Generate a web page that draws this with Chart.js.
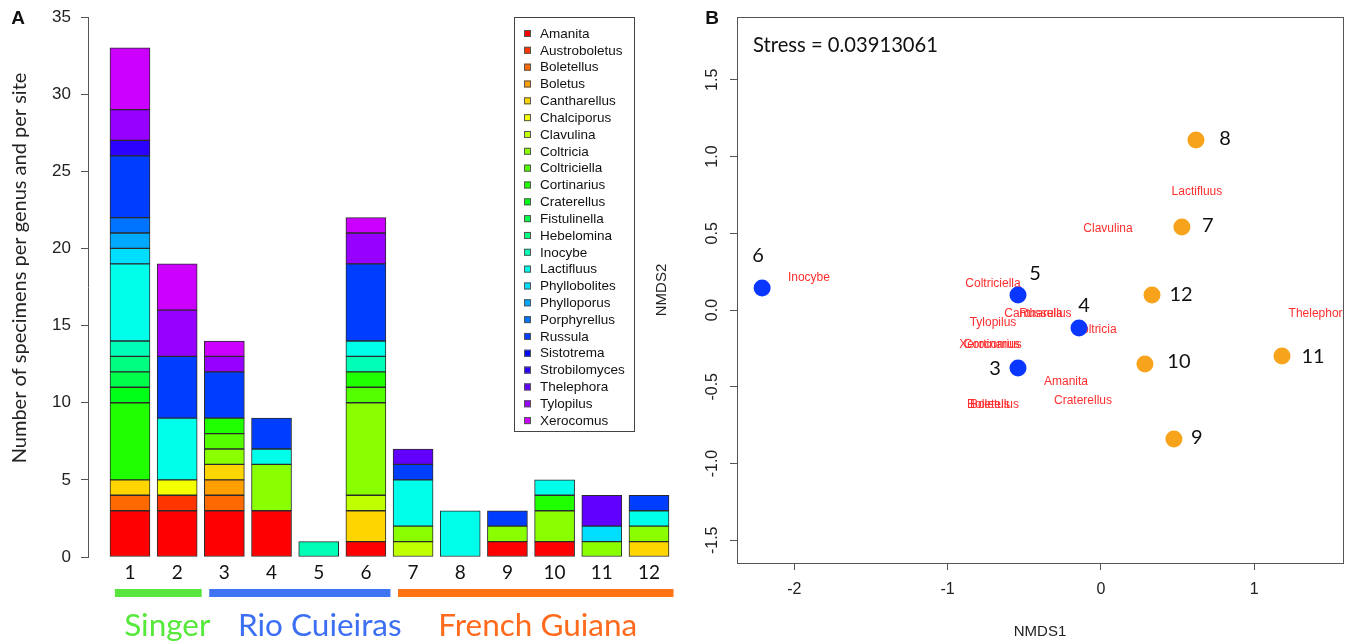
<!DOCTYPE html>
<html>
<head>
<meta charset="utf-8">
<script src="https://cdn.jsdelivr.net/npm/chart.js@4.4.0/dist/chart.umd.min.js"></script>
<style>
  body { margin: 0; background: #fff; }
  #wrap { position: relative; width: 1354px; height: 644px; overflow: hidden; }
  #barCanvas { position: absolute; left: 0; top: 0; }
  #nmdsCanvas { position: absolute; left: 640px; top: 0; }
</style>
</head>
<body>
<div id="wrap">
  <canvas id="barCanvas" width="680" height="644"></canvas>
  <canvas id="nmdsCanvas" width="714" height="644"></canvas>
</div>
<script>
// ---- panel A data: specimens per genus for sites 1..12 ----
var sites = [1, 2, 3, 4, 5, 6, 7, 8, 9, 10, 11, 12];
var genera = ["Amanita", "Austroboletus", "Boletellus", "Boletus", "Cantharellus", "Chalciporus",
  "Clavulina", "Coltricia", "Coltriciella", "Cortinarius", "Craterellus", "Fistulinella",
  "Hebelomina", "Inocybe", "Lactifluus", "Phyllobolites", "Phylloporus", "Porphyrellus",
  "Russula", "Sistotrema", "Strobilomyces", "Thelephora", "Tylopilus", "Xerocomus"];

var amanita       = [3, 3, 3, 3, 0, 1, 0, 0, 1, 1, 0, 0];
var austroboletus = [0, 1, 0, 0, 0, 0, 0, 0, 0, 0, 0, 0];
var boletellus    = [1, 0, 1, 0, 0, 0, 0, 0, 0, 0, 0, 0];
var boletus       = [0, 0, 1, 0, 0, 0, 0, 0, 0, 0, 0, 0];
var cantharellus  = [1, 0, 1, 0, 0, 2, 0, 0, 0, 0, 0, 1];
var chalciporus   = [0, 1, 0, 0, 0, 0, 0, 0, 0, 0, 0, 0];
var clavulina     = [0, 0, 0, 0, 0, 1, 1, 0, 0, 0, 0, 0];
var coltricia     = [0, 0, 1, 3, 0, 6, 1, 0, 1, 2, 1, 1];
var coltriciella  = [0, 0, 1, 0, 0, 1, 0, 0, 0, 0, 0, 0];
var cortinarius   = [5, 0, 1, 0, 0, 1, 0, 0, 0, 1, 0, 0];
var craterellus   = [1, 0, 0, 0, 0, 0, 0, 0, 0, 0, 0, 0];
var fistulinella  = [1, 0, 0, 0, 0, 0, 0, 0, 0, 0, 0, 0];
var hebelomina    = [1, 0, 0, 0, 0, 0, 0, 0, 0, 0, 0, 0];
var inocybe       = [1, 0, 0, 0, 1, 1, 0, 0, 0, 0, 0, 0];
var lactifluus    = [5, 4, 0, 1, 0, 1, 3, 3, 0, 1, 0, 1];
var phyllobolites = [1, 0, 0, 0, 0, 0, 0, 0, 0, 0, 1, 0];
var phylloporus   = [1, 0, 0, 0, 0, 0, 0, 0, 0, 0, 0, 0];
var porphyrellus  = [1, 0, 0, 0, 0, 0, 0, 0, 0, 0, 0, 0];
var russula       = [4, 4, 3, 2, 0, 5, 1, 0, 1, 0, 0, 1];
var sistotrema    = [0, 0, 0, 0, 0, 0, 0, 0, 0, 0, 0, 0];
var strobilomyces = [1, 0, 0, 0, 0, 0, 0, 0, 0, 0, 0, 0];
var thelephora    = [0, 0, 0, 0, 0, 0, 1, 0, 0, 0, 2, 0];
var tylopilus     = [2, 3, 1, 0, 0, 2, 0, 0, 0, 0, 0, 0];
var xerocomus     = [4, 3, 1, 0, 0, 1, 0, 0, 0, 0, 0, 0];

var genusCounts = [amanita, austroboletus, boletellus, boletus, cantharellus, chalciporus,
  clavulina, coltricia, coltriciella, cortinarius, craterellus, fistulinella,
  hebelomina, inocybe, lactifluus, phyllobolites, phylloporus, porphyrellus,
  russula, sistotrema, strobilomyces, thelephora, tylopilus, xerocomus];

var countTicks = [0, 5, 10, 15, 20, 25, 30, 35];

var groupNames = ["Singer", "Rio Cuieiras", "French Guiana"];
var groupFirst = [1, 3, 7];
var groupLast  = [2, 6, 12];

// ---- panel B data: NMDS scores ----
var siteLabels = [3, 4, 5, 6, 7, 8, 9, 10, 11, 12];
var siteX = [-0.541, -0.143, -0.541, -2.21, 0.528, 0.620, 0.476, 0.287, 1.181, 0.333];
var siteY = [-0.378, -0.117, 0.098, 0.143, 0.541, 1.107, -0.840, -0.352, -0.300, 0.098];
var siteRegion = [1, 1, 1, 1, 2, 2, 2, 2, 2, 2];

var scoreGenus = ["Inocybe", "Coltriciella", "Cantharellus", "Russula", "Tylopilus", "Xerocomus",
  "Cortinarius", "Boletellus", "Boletus", "Amanita", "Craterellus", "Coltricia",
  "Clavulina", "Lactifluus", "Thelephora"];
var scoreX = [-1.905, -0.704, -0.411, -0.391, -0.704, -0.727, -0.705, -0.704, -0.724, -0.228, -0.117, -0.039, 0.046, 0.626, 1.422];
var scoreY = [0.208, 0.169, -0.026, -0.026, -0.085, -0.228, -0.228, -0.619, -0.619, -0.469, -0.593, -0.130, 0.528, 0.769, -0.026];

var nmdsTicksX = [-2, -1, 0, 1];
var nmdsTicksY = [-1.5, -1.0, -0.5, 0.0, 0.5, 1.0, 1.5];
var stressValue = "0.03913061";

// R-like rainbow(n, end = 0.8)
function rainbow(i, n) {
  var h = (i * 0.8 / (n - 1)) * 6;
  var k = Math.floor(h), f = h - k;
  var q = 1 - f, t = f;
  var rgb = [[1, t, 0], [q, 1, 0], [0, 1, t], [0, q, 1], [t, 0, 1], [1, 0, q]][k % 6];
  return "rgb(" + rgb.map(function (c) { return Math.round(c * 255); }).join(",") + ")";
}
var genusColors = genera.map(function (g, i) { return rainbow(i, genera.length); });
var groupColors = ["#58e63e", "#3f74f2", "#ff7414"];
var groupTextColors = ["#56e83a", "#3d6ff5", "#ff6a1c"];

var barDatasets = genera.map(function (g, i) {
  return {
    label: g,
    data: sites.map(function (s, j) { return { x: s, y: genusCounts[i][j] || null }; }),
    backgroundColor: genusColors[i],
    borderColor: "#2b2b2b",
    borderWidth: 1,
    borderSkipped: false,
    barThickness: 40
  };
});

var panelAExtras = {
  id: "panelAExtras",
  afterDraw: function (chart) {
    var ctx = chart.ctx, xs = chart.scales.x, ys = chart.scales.y;
    ctx.save();
    ctx.fillStyle = "#111";
    ctx.font = "bold 19px 'Liberation Sans'";
    ctx.textAlign = "center";
    ctx.textBaseline = "middle";
    ctx.fillText("A", 18, 19);

    // y tick labels
    ctx.fillStyle = "#222";
    ctx.font = "17px 'Liberation Sans'";
    ctx.textAlign = "right";
    countTicks.forEach(function (v) {
      ctx.fillText(String(v), 71, ys.getPixelForValue(v));
    });
    ctx.textAlign = "center";

    // y axis title
    ctx.save();
    ctx.translate(20, 268);
    ctx.rotate(-Math.PI / 2);
    ctx.fillStyle = "#222";
    ctx.font = "20px Lato";
    ctx.fillText("Number of specimens per genus and per site", 0, 0);
    ctx.restore();

    // legend
    ctx.strokeStyle = "#444";
    ctx.lineWidth = 1;
    ctx.strokeRect(514.5, 17.5, 120, 414);
    ctx.font = "13.5px 'Liberation Sans'";
    ctx.textAlign = "left";
    genera.forEach(function (g, i) {
      var y = 33.5 + i * 16.83;
      ctx.fillStyle = genusColors[i];
      ctx.fillRect(524, y - 3.5, 7, 7);
      ctx.strokeStyle = "#555";
      ctx.strokeRect(524.5, y - 3, 6, 6);
      ctx.fillStyle = "#111";
      ctx.fillText(g, 540, y + 0.5);
    });

    // site groups under the bars
    var textShift = [9, 20, 2];
    groupNames.forEach(function (name, i) {
      var x0 = xs.getPixelForValue(groupFirst[i] - 0.32);
      var x1 = xs.getPixelForValue(groupLast[i] + 0.52);
      ctx.fillStyle = groupColors[i];
      ctx.fillRect(x0, 589, x1 - x0, 8);
      ctx.fillStyle = groupTextColors[i];
      ctx.font = "31.5px Lato";
      ctx.textAlign = "center";
      ctx.textBaseline = "middle";
      ctx.fillText(name, (x0 + x1) / 2 + textShift[i], 626);
    });
    ctx.restore();
  }
};

new Chart(document.getElementById("barCanvas"), {
  type: "bar",
  data: { datasets: barDatasets },
  options: {
    responsive: false,
    animation: false,
    layout: { padding: { top: 17, right: 4, left: 0, bottom: 0 } },
    plugins: { legend: { display: false }, tooltip: { enabled: false } },
    scales: {
      x: {
        type: "linear", stacked: true, offset: false, min: 0.11, max: 12.573,
        afterBuildTicks: function (s) { s.ticks = sites.map(function (v) { return { value: v }; }); },
        afterFit: function (s) { s.height = 87; },
        grid: { display: false, drawTicks: false },
        border: { display: false },
        ticks: { color: "#111", font: { family: "Lato", size: 19 }, padding: 4, autoSkip: false, maxRotation: 0 }
      },
      y: {
        stacked: true, min: 0, max: 35,
        afterBuildTicks: function (s) { s.ticks = countTicks.map(function (v) { return { value: v }; }); },
        afterFit: function (s) { s.width = 88; },
        grid: { drawOnChartArea: false, tickLength: 7, color: "#555" },
        border: { display: true, color: "#555" },
        ticks: { display: false }
      }
    }
  },
  plugins: [panelAExtras]
});

// ---- panel B ----
function sitePoints(region) {
  var pts = [];
  siteLabels.forEach(function (s, i) {
    if (siteRegion[i] === region) pts.push({ x: siteX[i], y: siteY[i], site: s });
  });
  return pts;
}

var siteLabelOffset = { 3: [-23, 0], 4: [5, -22], 5: [17, -21], 6: [-4, -33], 7: [26, -1],
  8: [29, -2], 9: [23, -1], 10: [34, -3], 11: [31, 0], 12: [29, 0] };

var panelBExtras = {
  id: "panelBExtras",
  beforeDatasetsDraw: function (chart) {
    var ctx = chart.ctx, a = chart.chartArea, xs = chart.scales.x, ys = chart.scales.y;
    ctx.save();
    ctx.beginPath();
    ctx.rect(a.left, a.top, a.right - a.left, a.bottom - a.top);
    ctx.clip();
    ctx.fillStyle = "#ff2e2e";
    ctx.font = "12px 'Liberation Sans'";
    ctx.textAlign = "center";
    ctx.textBaseline = "middle";
    scoreGenus.forEach(function (g, i) {
      ctx.fillText(g, xs.getPixelForValue(scoreX[i]), ys.getPixelForValue(scoreY[i]));
    });
    ctx.restore();
  },
  afterDatasetsDraw: function (chart) {
    var ctx = chart.ctx, a = chart.chartArea, xs = chart.scales.x, ys = chart.scales.y;
    ctx.save();
    ctx.fillStyle = "#111";
    ctx.font = "20px Lato";
    ctx.textAlign = "center";
    ctx.textBaseline = "middle";
    siteLabels.forEach(function (s, i) {
      var o = siteLabelOffset[s];
      ctx.fillText(String(s), xs.getPixelForValue(siteX[i]) + o[0], ys.getPixelForValue(siteY[i]) + o[1]);
    });

    ctx.strokeStyle = "#555";
    ctx.lineWidth = 1;
    ctx.strokeRect(Math.round(a.left) + 0.5, Math.round(a.top) + 0.5, a.right - a.left, a.bottom - a.top);

    ctx.textAlign = "left";
    ctx.font = "20.2px Lato";
    ctx.fillText("Stress = " + stressValue, a.left + 16, 45);

    ctx.fillStyle = "#222";
    ctx.font = "16px 'Liberation Sans'";
    ctx.textAlign = "center";
    nmdsTicksY.forEach(function (v) {
      ctx.save();
      ctx.translate(a.left - 24, ys.getPixelForValue(v));
      ctx.rotate(-Math.PI / 2);
      ctx.fillText(v.toFixed(1), 0, 0);
      ctx.restore();
    });
    ctx.font = "15px 'Liberation Sans'";
    ctx.fillText("NMDS1", (a.left + a.right) / 2, 632);
    ctx.save();
    ctx.translate(22, (a.top + a.bottom) / 2);
    ctx.rotate(-Math.PI / 2);
    ctx.fillText("NMDS2", 0, 0);
    ctx.restore();

    ctx.fillStyle = "#111";
    ctx.font = "bold 19px 'Liberation Sans'";
    ctx.fillText("B", 72, 19);
    ctx.restore();
  }
};

new Chart(document.getElementById("nmdsCanvas"), {
  type: "scatter",
  data: {
    datasets: [
      { label: "Rio Cuieiras", data: sitePoints(1), backgroundColor: "#0a37ff", borderWidth: 0, pointRadius: 8.5 },
      { label: "French Guiana", data: sitePoints(2), backgroundColor: "#f8a31c", borderWidth: 0, pointRadius: 8.5 }
    ]
  },
  options: {
    responsive: false,
    animation: false,
    layout: { padding: { top: 17, right: 11, left: 0, bottom: 0 } },
    plugins: { legend: { display: false }, tooltip: { enabled: false } },
    scales: {
      x: {
        type: "linear", min: -2.374, max: 1.579,
        afterBuildTicks: function (s) { s.ticks = nmdsTicksX.map(function (v) { return { value: v }; }); },
        afterFit: function (s) { s.height = 81; },
        grid: { drawOnChartArea: false, tickLength: 7, color: "#555" },
        border: { display: false },
        ticks: { color: "#222", font: { family: "Liberation Sans", size: 16 }, padding: 10,
          callback: function (v) { return String(v); } }
      },
      y: {
        type: "linear", min: -1.648, max: 1.909,
        afterBuildTicks: function (s) { s.ticks = nmdsTicksY.map(function (v) { return { value: v }; }); },
        afterFit: function (s) { s.width = 97; },
        grid: { drawOnChartArea: false, tickLength: 7, color: "#555" },
        border: { display: false },
        ticks: { display: false }
      }
    }
  },
  plugins: [panelBExtras]
});
</script>
</body>
</html>
